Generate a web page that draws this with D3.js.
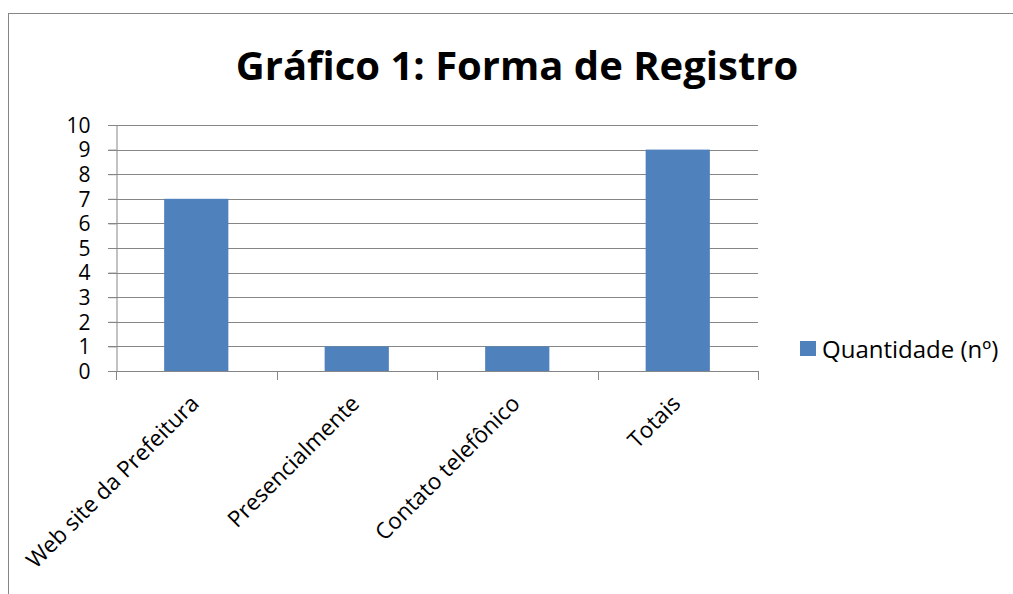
<!DOCTYPE html>
<meta charset="utf-8">
<style>
body {
  margin: 0;
  background: #fff;
}
text {
  font-family: "Open Sans", sans-serif;
  fill: #000;
}
.grid line {
  stroke: #868686;
  stroke-width: 1px;
}
</style>
<svg></svg>
<script src="https://cdn.jsdelivr.net/npm/d3@7"></script>
<script>

var categories = ["Web site da Prefeitura", "Presencialmente", "Contato telefônico", "Totais"];
var values = [7, 1, 1, 9];
var yTicks = [0, 1, 2, 3, 4, 5, 6, 7, 8, 9, 10];
var seriesName = "Quantidade (nº)";
var title = "Gráfico 1: Forma de Registro";

var width = 1013, height = 594;
var axisColor = "#868686", barColor = "#4F81BD";

var svg = d3.select("svg")
    .attr("width", width)
    .attr("height", height);

// chart frame
svg.append("rect")
    .attr("x", 8.5).attr("y", 13.5)
    .attr("width", width).attr("height", height)
    .attr("fill", "none")
    .attr("stroke", axisColor);

svg.append("text")
    .attr("x", 517).attr("y", 80)
    .attr("text-anchor", "middle")
    .attr("font-weight", "bold")
    .attr("font-size", 40)
    .text(title);

var x = d3.scaleBand()
    .domain(categories)
    .range([116, 758])
    .paddingInner(0.6)
    .paddingOuter(0.3);

var y = d3.scaleLinear()
    .domain([0, 10])
    .range([371, 125]);

// gridlines
svg.append("g")
    .attr("class", "grid")
  .selectAll("line")
  .data(yTicks)
  .enter().append("line")
    .attr("x1", 108).attr("x2", 758)
    .attr("y1", function(d) { return Math.round(y(d)) + 0.5; })
    .attr("y2", function(d) { return Math.round(y(d)) + 0.5; });

// bars
svg.append("g")
  .selectAll("rect")
  .data(values)
  .enter().append("rect")
    .attr("x", function(d, i) { return x(categories[i]); })
    .attr("y", function(d) { return y(d); })
    .attr("width", x.bandwidth())
    .attr("height", function(d) { return y(0) - y(d); })
    .attr("fill", barColor);

// y axis
var yAxis = svg.append("g")
    .attr("transform", "translate(116.5,0)")
    .call(d3.axisLeft(y).tickValues(yTicks).tickSize(8).tickPadding(18));
yAxis.selectAll("line, path").attr("stroke", axisColor);
yAxis.selectAll("text").attr("font-size", 21).attr("font-family", "'Open Sans', sans-serif").attr("dy", "0.35em");

// x axis with ticks on category boundaries
var bounds = d3.range(categories.length + 1).map(function(i) { return 116 + i * (758 - 116) / categories.length; });
var xg = svg.append("g");
xg.append("line")
    .attr("x1", 116).attr("x2", 758)
    .attr("y1", Math.round(y(0)) + 0.5).attr("y2", Math.round(y(0)) + 0.5)
    .attr("stroke", axisColor);
xg.selectAll("line.tick")
  .data(bounds)
  .enter().append("line")
    .attr("class", "tick")
    .attr("x1", function(d) { return Math.round(d) + 0.5; })
    .attr("x2", function(d) { return Math.round(d) + 0.5; })
    .attr("y1", Math.round(y(0))).attr("y2", Math.round(y(0)) + 9)
    .attr("stroke", axisColor);

xg.selectAll("text")
  .data(categories)
  .enter().append("text")
    .attr("text-anchor", "end")
    .attr("font-size", 22.5)
    .attr("transform", function(d) {
      var cx = x(d) + x.bandwidth() / 2 + 4;
      return "translate(" + cx + ",405) rotate(-45)";
    })
    .text(function(d) { return d; });

// legend
var legend = svg.append("g");
legend.append("rect")
    .attr("x", 800).attr("y", 341)
    .attr("width", 16).attr("height", 15)
    .attr("fill", barColor);
legend.append("text")
    .attr("x", 822).attr("y", 358)
    .attr("font-size", 24)
    .text(seriesName);

</script>
